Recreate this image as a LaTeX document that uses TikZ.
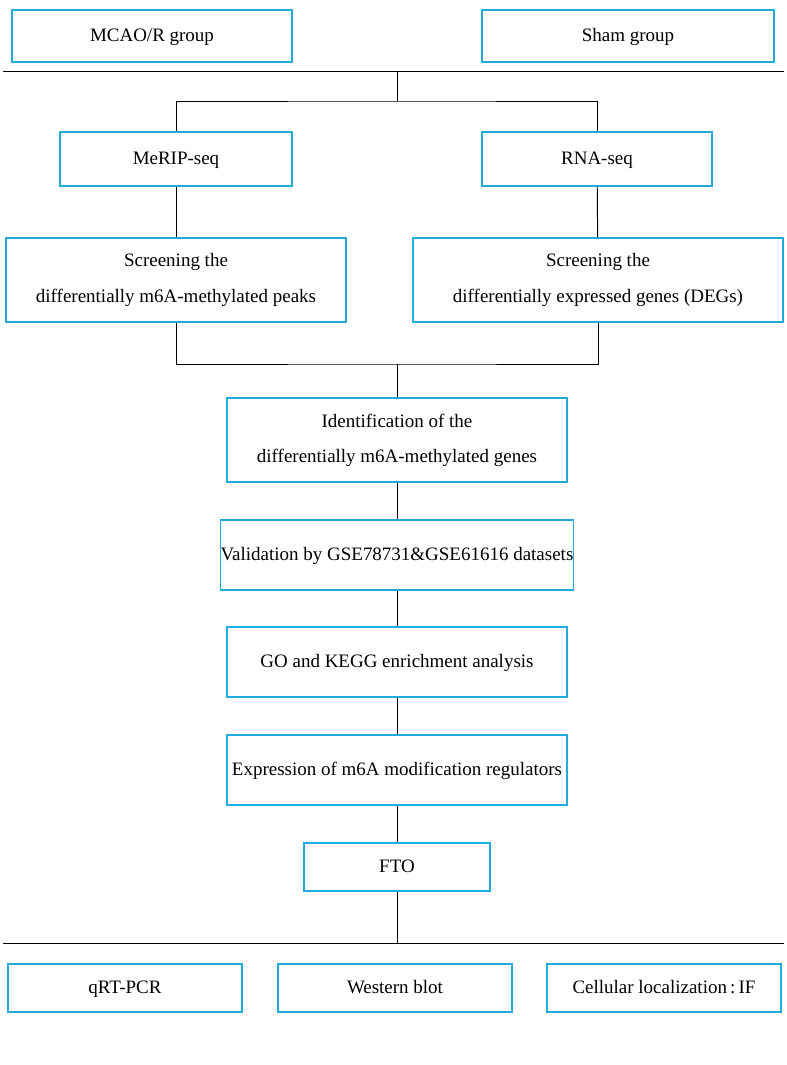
\documentclass[tikz,border=0pt]{standalone}
\usepackage{fontspec}
\setmainfont{Liberation Serif}
\usetikzlibrary{positioning,calc}
\definecolor{boxblue}{RGB}{35,170,220}
\tikzset{
  box/.style={draw=boxblue,line width=1.2pt,align=center,inner sep=0pt,
    font=\fontsize{13.5}{25}\selectfont},
  line box/.style={box,text height=2.2ex,text depth=0.6ex},
  link/.style={draw=black,line width=0.7pt}
}
\begin{document}
\begin{tikzpicture}[x=0.025cm,y=-0.025cm]
\useasboundingbox (0,0) rectangle (787,1065);
% top row
\node[line box,minimum width=7cm,minimum height=1.3cm] (mcao) at (152,36) {MCAO/R group};
\node[line box,minimum width=7.3cm,minimum height=1.3cm] (sham) at (628,36) {Sham group};
\draw[link] (3,71) -- (784,71);
\coordinate (top) at (397,71);
\coordinate (split) at (397,101);
\draw[link] (top) -- (split);
% sequencing
\node[line box,minimum width=5.8cm,minimum height=1.35cm] (merip) at (176,159) {MeRIP-seq};
\node[line box,minimum width=5.75cm,minimum height=1.35cm] (rnaseq) at (597,159) {RNA-seq};
\draw[link] (merip.north) |- (split) -| (rnaseq.north);
% screening
\node[box,minimum width=8.5cm,minimum height=2.1cm] (peaks) at (176,280)
  {Screening the\\differentially m6A-methylated peaks};
\node[box,minimum width=9.25cm,minimum height=2.1cm] (degs) at (598,280)
  {Screening the\\differentially expressed genes (DEGs)};
\draw[link] (merip) -- (peaks);
\draw[link] (rnaseq) -- (degs);
\coordinate (join) at (397,364);
\draw[link] (peaks.south) |- (join) -| (degs.south);
% main chain
\node[box,minimum width=8.5cm,minimum height=2.1cm] (ident) at (397,440)
  {Identification of the\\differentially m6A-methylated genes};
\node[line box,minimum width=8.5cm,minimum height=1.75cm] (valid) at (397,555)
  {Validation by GSE78731\&GSE61616 datasets};
\node[line box,minimum width=8.5cm,minimum height=1.75cm] (enrich) at (397,662)
  {GO and KEGG enrichment analysis};
\node[line box,minimum width=8.5cm,minimum height=1.75cm] (regul) at (397,770)
  {Expression of m6A modification regulators};
\node[line box,minimum width=4.65cm,minimum height=1.2cm] (fto) at (397,867) {FTO};
\draw[link] (join) -- (ident);
\draw[link] (ident) -- (valid);
\draw[link] (valid) -- (enrich);
\draw[link] (enrich) -- (regul);
\draw[link] (regul) -- (fto);
\coordinate (bottom) at (397,943);
\draw[link] (fto) -- (bottom);
\draw[link] (3,943) -- (784,943);
% experiments
\node[line box,minimum width=5.85cm,minimum height=1.2cm] (pcr) at (125,988) {qRT-PCR};
\node[line box,minimum width=5.85cm,minimum height=1.2cm] (wb) at (395,988) {Western blot};
\node[line box,minimum width=5.85cm,minimum height=1.2cm] (loc) at (664,988) {Cellular localization\,:\,IF};
\end{tikzpicture}
\end{document}
